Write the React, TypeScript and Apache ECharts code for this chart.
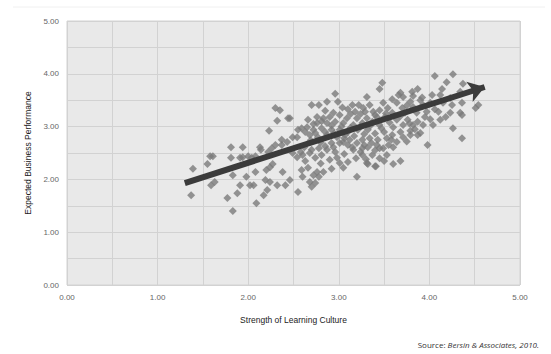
import React, { useEffect, useRef } from "react";
import * as echarts from "echarts";

const xTitle = "Strength of Learning Culture";
const yTitle = "Expected Business Performance";
const sourceLabel = "Source: ";
const sourceCite = "Bersin & Associates, 2010.";

// [strength of learning culture, expected business performance]
const scores: [number, number][] = [
  [2.30,3.35],[2.35,3.31],[2.32,3.11],[2.23,2.92],[2.44,3.16],
  [1.81,2.61],[1.94,2.61],[2.13,2.61],[2.14,2.56],
  [1.58,2.44],[1.61,2.44],[1.81,2.41],[1.91,2.41],[1.94,2.42],[2.00,2.44],[2.08,2.44],[2.04,2.41],
  [2.22,2.52],[2.26,2.59],[2.30,2.65],[2.37,2.65],[2.43,2.71],
  [1.55,2.29],[1.39,2.20],
  [1.83,2.08],[1.98,2.05],[2.08,2.14],[2.20,2.18],[2.24,2.23],[2.27,2.29],[2.38,2.14],
  [1.59,1.89],[1.63,1.95],[1.91,1.89],[2.02,1.89],[2.06,1.89],[2.19,1.99],[2.24,1.95],[2.32,1.89],[2.41,1.89],[2.46,1.99],
  [1.37,1.70],[1.88,1.74],[2.21,1.80],[2.17,1.70],
  [1.77,1.65],[2.09,1.55],[1.83,1.40],
  [2.37,2.75],[2.49,2.80],[2.55,2.94],
  [3.48,3.83],[3.45,3.71],
  [2.96,3.62],[3.31,3.56],
  [2.87,3.47],[2.99,3.47],[2.70,3.41],[2.78,3.41],
  [3.15,3.41],[3.22,3.41],[3.34,3.41],[3.49,3.45],
  [3.10,3.33],[3.18,3.28],[3.29,3.28],[3.38,3.28],[3.45,3.31],[3.54,3.35],
  [2.76,3.18],[2.83,3.16],[2.90,3.18],[3.01,3.22],[3.09,3.16],[3.20,3.16],[3.31,3.16],[3.42,3.18],[3.51,3.18],
  [2.66,3.13],[2.76,3.07],[2.87,3.07],[2.96,3.09],[3.05,3.07],[3.16,3.03],[3.26,3.07],[3.37,3.09],[3.45,3.03],
  [2.65,2.99],[2.59,2.97],[2.72,2.94],[2.81,2.97],[2.92,2.94],[3.01,2.94],[3.10,2.90],[3.21,2.94],[3.32,2.94],
  [2.54,2.80],[2.68,2.84],[2.77,2.80],[2.87,2.84],[2.98,2.80],[3.07,2.84],
  [2.46,3.16],
  [3.26,2.75],[3.34,2.78],[3.43,2.75],[3.53,2.78],
  [2.54,2.42],[2.49,2.50],[2.60,2.46],[2.68,2.50],[2.74,2.41],[2.81,2.46],[2.87,2.56],[2.94,2.61],[3.01,2.69],[3.10,2.65],[3.16,2.56],[3.26,2.59],[3.32,2.61],[3.42,2.65],[3.49,2.59],[3.53,2.46],
  [3.01,2.31],[3.05,2.22],[3.10,2.33],[3.31,2.31],[3.40,2.25],[3.20,2.05],
  [2.59,2.18],[2.66,2.22],[2.76,2.14],[2.83,2.14],[2.60,2.05],[2.72,2.08],[2.78,2.05],
  [2.68,1.95],[2.74,1.93],[2.70,1.86],[2.55,1.76],
  [2.90,2.37],[2.98,2.41],[3.26,2.46],[3.37,2.46],
  [4.06,3.96],[4.26,3.99],[4.19,3.84],[4.37,3.81],
  [3.87,3.71],[3.81,3.66],[3.68,3.64],[4.14,3.71],[4.34,3.66],
  [3.59,3.52],[3.71,3.56],[3.82,3.58],[4.03,3.60],[4.12,3.60],
  [3.64,3.45],[3.79,3.47],[3.90,3.50],[4.01,3.45],[4.23,3.54],
  [3.70,3.35],[3.82,3.37],[3.93,3.41],[4.06,3.33],[4.25,3.41],[4.36,3.45],
  [4.54,3.41],[4.51,3.35],
  [3.59,3.26],[3.73,3.26],[3.86,3.26],[3.97,3.28],[4.10,3.28],[4.23,3.26],[4.34,3.26],
  [3.64,3.13],[3.76,3.13],[3.87,3.09],[4.01,3.14],[4.12,3.13],[4.36,3.22],
  [3.60,2.99],[3.71,3.03],[3.82,3.03],[3.93,3.03],[4.04,3.03],
  [3.68,2.90],[3.79,2.92],[3.90,2.88],[4.26,2.97],[4.36,2.78],
  [3.59,2.84],[3.66,3.60],[3.98,2.65],[3.68,2.35],[3.60,2.29],[3.41,2.25],[3.32,2.29],
  [3.60,2.61],[3.64,2.71],[3.71,2.80],[3.79,2.84],[3.87,2.84],
  [3.05,2.71],[3.12,2.75],[3.20,2.69],[3.28,2.65],[3.36,2.69],[3.45,2.59],[2.92,2.69],[2.85,2.63],
  [2.78,2.59],[2.70,2.56],[2.62,2.61],[2.58,2.52],[3.15,2.61],[3.24,2.52],[3.40,2.55],[3.55,2.65],[3.58,2.75],
  [2.72,3.05],[2.81,3.10],[2.92,3.02],[3.03,3.00],[3.13,2.98],[3.24,3.00],[3.35,3.02],[3.47,2.97],
  [2.63,2.90],[2.74,2.88],[2.85,2.90],[2.95,2.87],[3.06,2.78],[3.17,2.82],[3.28,2.86],[3.40,2.87],
  [3.50,2.90],[3.56,3.08],[3.52,3.25],[3.40,3.22],[3.24,3.24],[3.13,3.24],[2.94,3.26],[2.85,3.30],
  [3.04,3.36],[3.27,3.35],[2.69,2.74],[2.80,2.70],[2.96,2.52],[3.06,2.48],[3.19,2.40],[3.45,2.40],
  [3.30,2.38],[2.63,2.35],[2.80,2.30],[2.92,2.20],[3.50,2.35],[3.75,2.72],[3.84,2.95],[3.95,3.18],
  [3.75,3.40],[3.92,3.55],[4.15,3.45],[4.18,3.18],[3.68,3.20],[3.78,3.06],
];

// trend arrow: start and end (data units)
const trendArrow: [number, number][] = [[1.30, 1.93], [4.61, 3.75]];

const xLimits = [0, 5];
const yLimits = [0, 5];

export default function App() {
  const ref = useRef<HTMLDivElement>(null);
  useEffect(() => {
    if (!ref.current) return;
    const chart = echarts.init(ref.current, undefined, { renderer: "svg" });
    const font = "'Liberation Sans', Arial, sans-serif";
    chart.setOption({
      animation: false,
      backgroundColor: "#ffffff",
      grid: {
        left: 67, right: 31, top: 21, bottom: 69,
        show: true, backgroundColor: "#e9e9e9", borderColor: "#d2d2d2", borderWidth: 1,
      },
      xAxis: {
        type: "value", min: xLimits[0], max: xLimits[1], interval: 1,
        name: xTitle, nameLocation: "middle", nameGap: 30,
        nameTextStyle: { color: "#222", fontSize: 8.5, fontFamily: font },
        axisLine: { show: false }, axisTick: { show: false },
        axisLabel: { color: "#666", fontSize: 8, fontFamily: font, margin: 8, formatter: (v: number) => v.toFixed(2) },
        splitLine: { show: true, lineStyle: { color: "#d2d2d2", width: 1 } },
        minorTick: { show: false, splitNumber: 2 },
        minorSplitLine: { show: true, lineStyle: { color: "#d2d2d2", width: 1 } },
      },
      yAxis: {
        type: "value", min: yLimits[0], max: yLimits[1], interval: 1,
        name: yTitle, nameLocation: "middle", nameGap: 35, nameRotate: 90,
        nameTextStyle: { color: "#222", fontSize: 8.5, fontFamily: font },
        axisLine: { show: false }, axisTick: { show: false },
        axisLabel: { color: "#666", fontSize: 8, fontFamily: font, margin: 8, formatter: (v: number) => v.toFixed(2) },
        splitLine: { show: true, lineStyle: { color: "#d2d2d2", width: 1 } },
        minorTick: { show: false, splitNumber: 2 },
        minorSplitLine: { show: true, lineStyle: { color: "#d2d2d2", width: 1 } },
      },
      series: [
        {
          type: "scatter",
          data: scores,
          symbol: "diamond",
          symbolSize: 8,
          itemStyle: { color: "#7b7b7b" },
          silent: true,
          z: 2,
        },
        {
          type: "lines",
          coordinateSystem: "cartesian2d",
          data: [{ coords: trendArrow }],
          symbol: ["none", "arrow"],
          symbolSize: 16,
          lineStyle: { color: "#3b3b3b", width: 6, opacity: 1 },
          silent: true,
          z: 5,
        },
      ],
      graphic: [
        { type: "line", shape: { x1: 13, y1: 7, x2: 545, y2: 7 }, style: { stroke: "#f0f0f0", lineWidth: 1 } },
        {
          type: "text", right: 12, top: 340,
          style: {
            text: "{a|" + sourceLabel + "}{b|" + sourceCite + "}",
            rich: {
              a: { fontFamily: "'Open Sans', sans-serif", fontSize: 8, fill: "#333" },
              b: { fontFamily: "'Open Sans', sans-serif", fontSize: 8, fontStyle: "italic", fill: "#333" },
            },
          },
        },
      ],
    });
    return () => chart.dispose();
  }, []);
  return <div ref={ref} style={{ position: "fixed", left: 0, top: 0, width: 551, height: 354 }} />;
}
